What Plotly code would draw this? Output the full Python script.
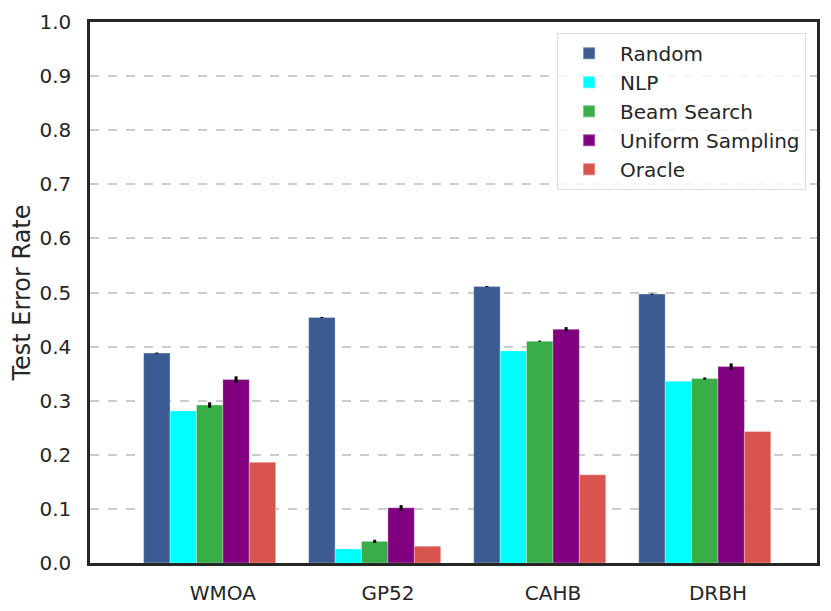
import plotly.graph_objects as go

# datasets and methods
datasets = ["WMOA", "GP52", "CAHB", "DRBH"]
methods = ["Random", "NLP", "Beam Search", "Uniform Sampling", "Oracle"]
colors = ["#3b5b92", "#00ffff", "#39ad48", "#800080", "#d9544d"]

# test error rate per method (one value per dataset)
random_err = [0.388, 0.454, 0.511, 0.497]
nlp_err = [0.281, 0.026, 0.392, 0.336]
beam_err = [0.292, 0.040, 0.410, 0.341]
uniform_err = [0.339, 0.102, 0.432, 0.363]
oracle_err = [0.186, 0.031, 0.163, 0.243]

# error bar half-widths
random_std = [0.001, 0.001, 0.001, 0.001]
nlp_std = [0.0, 0.0, 0.0, 0.0]
beam_std = [0.005, 0.003, 0.001, 0.002]
uniform_std = [0.006, 0.005, 0.004, 0.006]
oracle_std = [0.0, 0.0, 0.0, 0.0]

values = [random_err, nlp_err, beam_err, uniform_err, oracle_err]
stds = [random_std, nlp_std, beam_std, uniform_std, oracle_std]

bar_w = 0.16
font = "DejaVu Sans"

fig = go.Figure()

for k, (name, col, vals, sd) in enumerate(zip(methods, colors, values, stds)):
    fig.add_trace(go.Bar(
        x=datasets,
        y=vals,
        name=name,
        width=bar_w,
        offset=(k - 3) * bar_w,
        marker=dict(color=col, line=dict(color="rgba(255,255,255,0.3)", width=1)),
        error_y=dict(type="data", array=sd, visible=True, color="black",
                     thickness=3, width=0),
    ))

fig.update_layout(
    width=831, height=611,
    margin=dict(l=82, r=22, t=14, b=56),
    plot_bgcolor="white",
    paper_bgcolor="white",
    font=dict(family=font, size=20, color="#262626"),
    barmode="overlay",
    legend=dict(
        x=0.985, y=0.98, xanchor="right", yanchor="top",
        bgcolor="rgba(255,255,255,0.8)",
        bordercolor="#dddddd", borderwidth=1,
        font=dict(size=20),
        tracegroupgap=4, itemsizing="constant", itemwidth=52,
    ),
)

fig.update_xaxes(
    type="category",
    range=[-0.805, 3.6],
    showgrid=False, automargin=False,
    showline=True, linecolor="#262626", linewidth=2.5, mirror=True,
    ticks="", ticklabelstandoff=10,
)

fig.update_yaxes(
    range=[0, 1.0],
    dtick=0.1, tickformat=".1f", automargin=False,
    showgrid=True, gridcolor="#cccccc", griddash="dash", gridwidth=1.5,
    showline=True, linecolor="#262626", linewidth=2.5, mirror=True,
    zeroline=False, ticks="", ticklabelstandoff=12,
    title=dict(text="Test Error Rate", standoff=12),
)

fig.write_html("out.html")
